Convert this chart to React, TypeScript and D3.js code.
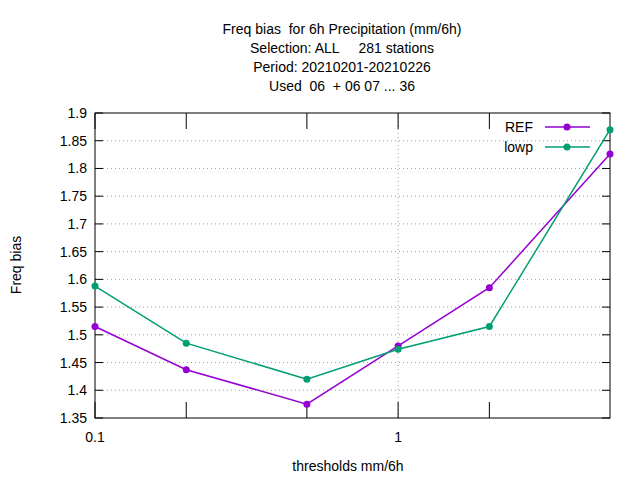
import React from "react";
import * as d3 from "d3";

const thresholds = [0.1, 0.2, 0.5, 1, 2, 5];
const refValues = [1.515, 1.437, 1.375, 1.48, 1.585, 1.826];
const lowpValues = [1.588, 1.485, 1.42, 1.474, 1.515, 1.87];
const yTicks = [1.35, 1.4, 1.45, 1.5, 1.55, 1.6, 1.65, 1.7, 1.75, 1.8, 1.85, 1.9];
const xLabelTicks = [0.1, 1];
const xMinorTicks = [0.2, 0.5, 2];
const titleLines = [
  "Freq bias  for 6h Precipitation (mm/6h)",
  "Selection: ALL     281 stations",
  "Period: 20210201-20210226",
  "Used  06  + 06 07 ... 36",
];
const series = [
  { name: "REF", values: refValues, color: "#9400d3" },
  { name: "lowp", values: lowpValues, color: "#009e73" },
];

export default function App() {
  const L = 95, R = 610, T = 113, B = 418;
  const x = d3.scaleLog().domain([0.1, 5]).range([L, R]);
  const y = d3.scaleLinear().domain([1.35, 1.9]).range([B, T]);
  const font = "Liberation Sans, Arial, sans-serif";
  return (
    <svg width={640} height={480} style={{ position: "absolute", left: 0, top: 0 }} fontFamily={font} fontSize={14}>
      <rect width={640} height={480} fill="white" />
      {yTicks.map((t) => (
        <g key={t}>
          {t > 1.35 && t < 1.9 && (
            <line x1={L} x2={R} y1={y(t)} y2={y(t)} stroke="#a0a0a0" strokeDasharray="1,3" />
          )}
          <line x1={L} x2={L + 8} y1={y(t)} y2={y(t)} stroke="black" />
          <line x1={R} x2={R - 8} y1={y(t)} y2={y(t)} stroke="black" />
          <text x={L - 8} y={y(t) + 5} textAnchor="end">{t}</text>
        </g>
      ))}
      <line x1={x(1)} x2={x(1)} y1={T} y2={B} stroke="#a0a0a0" strokeDasharray="1,3" />
      {xLabelTicks.map((t) => (
        <g key={t}>
          <line x1={x(t)} x2={x(t)} y1={B} y2={B - 16} stroke="black" />
          <line x1={x(t)} x2={x(t)} y1={T} y2={T + 16} stroke="black" />
          <text x={x(t)} y={B + 24} textAnchor="middle">{t}</text>
        </g>
      ))}
      {xMinorTicks.map((t) => (
        <g key={t}>
          <line x1={x(t)} x2={x(t)} y1={B} y2={B - 16} stroke="black" />
          <line x1={x(t)} x2={x(t)} y1={T} y2={T + 16} stroke="black" />
        </g>
      ))}
      <rect x={L} y={T} width={R - L} height={B - T} fill="none" stroke="black" />
      {series.map((s, i) => {
        const line = d3.line<number>().x((_, j) => x(thresholds[j])).y((v) => y(v));
        const ly = 127 + i * 20;
        return (
          <g key={s.name}>
            <path d={line(s.values) || ""} fill="none" stroke={s.color} strokeWidth={1.5} />
            {s.values.map((v, j) => (
              <circle key={j} cx={x(thresholds[j])} cy={y(v)} r={3.5} fill={s.color} />
            ))}
            <text x={533} y={ly + 5} textAnchor="end">{s.name}</text>
            <line x1={545} x2={590} y1={ly} y2={ly} stroke={s.color} strokeWidth={1.5} />
            <circle cx={567} cy={ly} r={3.5} fill={s.color} />
          </g>
        );
      })}
      {titleLines.map((t, i) => (
        <text key={i} x={342} y={34 + i * 19} textAnchor="middle" style={{ whiteSpace: "pre" }}>{t}</text>
      ))}
      <text transform="translate(21,265) rotate(-90)" textAnchor="middle">Freq bias</text>
      <text x={348} y={471} textAnchor="middle">thresholds mm/6h</text>
    </svg>
  );
}
